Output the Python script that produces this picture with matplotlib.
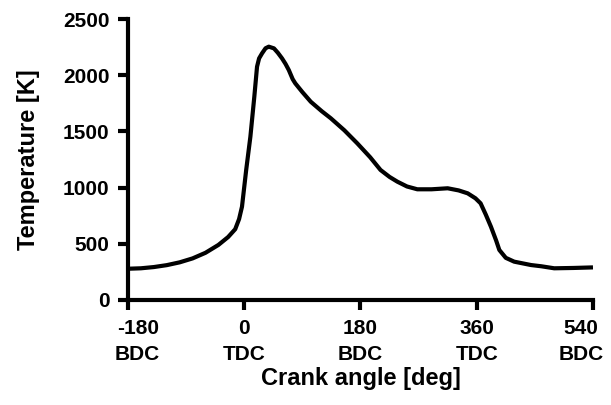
import matplotlib
matplotlib.use("Agg")
import matplotlib.pyplot as plt

# crank angle [deg] and in-cylinder temperature [K]
crank_angle = [-180, -160, -140, -120, -100, -80, -60, -40, -25, -14, -8, -3.5, 3,
               9.5, 15.6, 19.8, 23, 27.6, 33, 38, 46, 52, 58.5, 64, 69, 75, 79,
               90, 103, 120, 134, 155, 175, 195, 211, 225, 237, 252, 268, 290,
               315, 332, 346, 358, 366, 374, 382, 390, 395, 405, 418, 444, 460,
               480, 510, 540]
temperature = [278, 282, 293, 310, 335, 370, 420, 490, 560, 630, 720, 830, 1157,
               1453, 1809, 2076, 2150, 2195, 2240, 2254, 2239, 2200, 2150, 2100, 2046, 1965, 1928,
               1850, 1764, 1680, 1617, 1510, 1394, 1270, 1157, 1095, 1053, 1010, 985, 985,
               994, 975, 949, 905, 860, 760, 652, 530, 445, 375, 341, 311, 300,
               282, 285, 290]

x_ticks = [-180, 0, 180, 360, 540]
x_tick_labels = ["-180\nBDC", "0\nTDC", "180\nBDC", "360\nTDC", "540\nBDC"]
# small sideways nudges (points) of the outer labels, as in the original
x_label_shift = [7, 0, 0, 0, -8.5]
y_ticks = [0, 500, 1000, 1500, 2000, 2500]

plt.rcParams['font.family'] = ['Liberation Sans', 'DejaVu Sans']
plt.rcParams['font.weight'] = 'bold'

fig = plt.figure(figsize=(6.11, 4.05), dpi=100)
ax = fig.add_axes([0.2095, 0.2593, 0.761, 0.6937])

ax.plot(crank_angle, temperature, color='black', linewidth=3,
        solid_joinstyle='round', solid_capstyle='butt')

ax.set_xlim(-180, 540)
ax.set_ylim(0, 2500)
ax.set_xticks(x_ticks)
ax.set_xticklabels([])
for xv, lab, dx in zip(x_ticks, x_tick_labels, x_label_shift):
    ax.annotate(lab, xy=(xv, 0), xycoords=('data', 'axes fraction'),
                xytext=(dx, -14), textcoords='offset points',
                ha='center', va='top', fontsize=15, fontweight='bold',
                linespacing=1.45, annotation_clip=False)
ax.set_yticks(y_ticks)
ax.set_yticklabels([str(v) for v in y_ticks], fontsize=15, fontweight='bold')

for side in ['top', 'right']:
    ax.spines[side].set_visible(False)
for side in ['left', 'bottom']:
    ax.spines[side].set_linewidth(3)
    ax.spines[side].set_capstyle('projecting')
ax.tick_params(axis='both', length=7.5, width=3, pad=6)

ax.set_xlabel('Crank angle [deg]', fontsize=17, fontweight='bold')
ax.xaxis.set_label_coords(0.5, -0.24)
ax.set_ylabel('Temperature [K]', fontsize=17, fontweight='bold', labelpad=16)

fig.savefig('out.png', dpi=100)
